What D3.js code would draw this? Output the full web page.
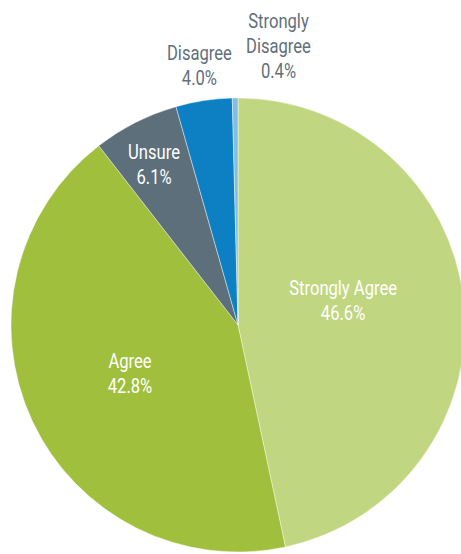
<!DOCTYPE html>
<html>
<head>
<meta charset="utf-8">
<script src="https://cdn.jsdelivr.net/npm/d3@7"></script>
<style>
  html, body { margin: 0; padding: 0; background: #fff; }
  svg { display: block; }
  text { font-family: "Roboto", "DejaVu Sans Condensed", sans-serif; font-weight: 400; }
</style>
</head>
<body>
<svg id="chart" width="461" height="554"></svg>
<script>
// Survey responses, in clockwise order from 12 o'clock
const categories = ["Strongly Agree", "Agree", "Unsure", "Disagree", "Strongly Disagree"];
const shares = [46.6, 42.8, 6.1, 4.0, 0.4];
const valueLabels = ["46.6%", "42.8%", "6.1%", "4.0%", "0.4%"];
const colors = ["#c1d681", "#a0bf3c", "#5d6f7a", "#0d80c4", "#80bee3"];

// Label layout: radius as a fraction of the pie radius, whether the text sits
// inside the slice (white) or outside (slate), plus a small nudge
const labelStyle = [
  { rf: 0.47, inside: true,  dx: -1, dy: -14, lines: ["Strongly Agree"] },
  { rf: 0.52, inside: true,  dx: -1, dy: -2,  lines: ["Agree"] },
  { rf: 0.78, inside: true,  dx: -4, dy: -3,  lines: ["Unsure"] },
  { rf: 1.16, inside: false, dx: 1,  dy: 0,   lines: ["Disagree"] },
  { rf: 1.23, inside: false, dx: 44, dy: 0,   lines: ["Strongly", "Disagree"] }
];

const cx = 238, cy = 325, radius = 227;
const svg = d3.select("#chart");
const g = svg.append("g").attr("transform", `translate(${cx},${cy})`);

const data = categories.map((c, i) => ({ name: c, value: shares[i], label: valueLabels[i], color: colors[i], style: labelStyle[i] }));

const pie = d3.pie().value(d => d.value).sort(null);
const arc = d3.arc().innerRadius(0).outerRadius(radius);
const arcs = pie(data);

g.selectAll("path.slice")
  .data(arcs)
  .join("path")
  .attr("class", "slice")
  .attr("d", arc)
  .attr("fill", d => d.data.color)
  .attr("stroke", "#ffffff")
  .attr("stroke-width", 0.6)
  .attr("stroke-opacity", 0.7);

// Condensed lettering: a regular face narrowed horizontally
const fontSize = 21, lineH = 25, narrow = 0.79;

arcs.forEach(d => {
  const s = d.data.style;
  const la = d3.arc().innerRadius(radius * s.rf).outerRadius(radius * s.rf);
  const [x0, y0] = la.centroid(d);
  const x = x0 + s.dx, y = y0 + s.dy;
  const lines = s.lines.concat([d.data.label]);
  const top = -(lines.length - 1) * lineH / 2;
  const t = g.append("text")
    .attr("transform", `translate(${x},${y}) scale(${narrow},1)`)
    .attr("text-anchor", "middle")
    .attr("font-size", fontSize)
    .attr("fill", s.inside ? "#ffffff" : "#5f6f7b");
  lines.forEach((ln, k) => {
    t.append("tspan")
      .attr("x", 0)
      .attr("y", top + k * lineH)
      .attr("dy", "0.35em")
      .text(ln);
  });
});
</script>
</body>
</html>
